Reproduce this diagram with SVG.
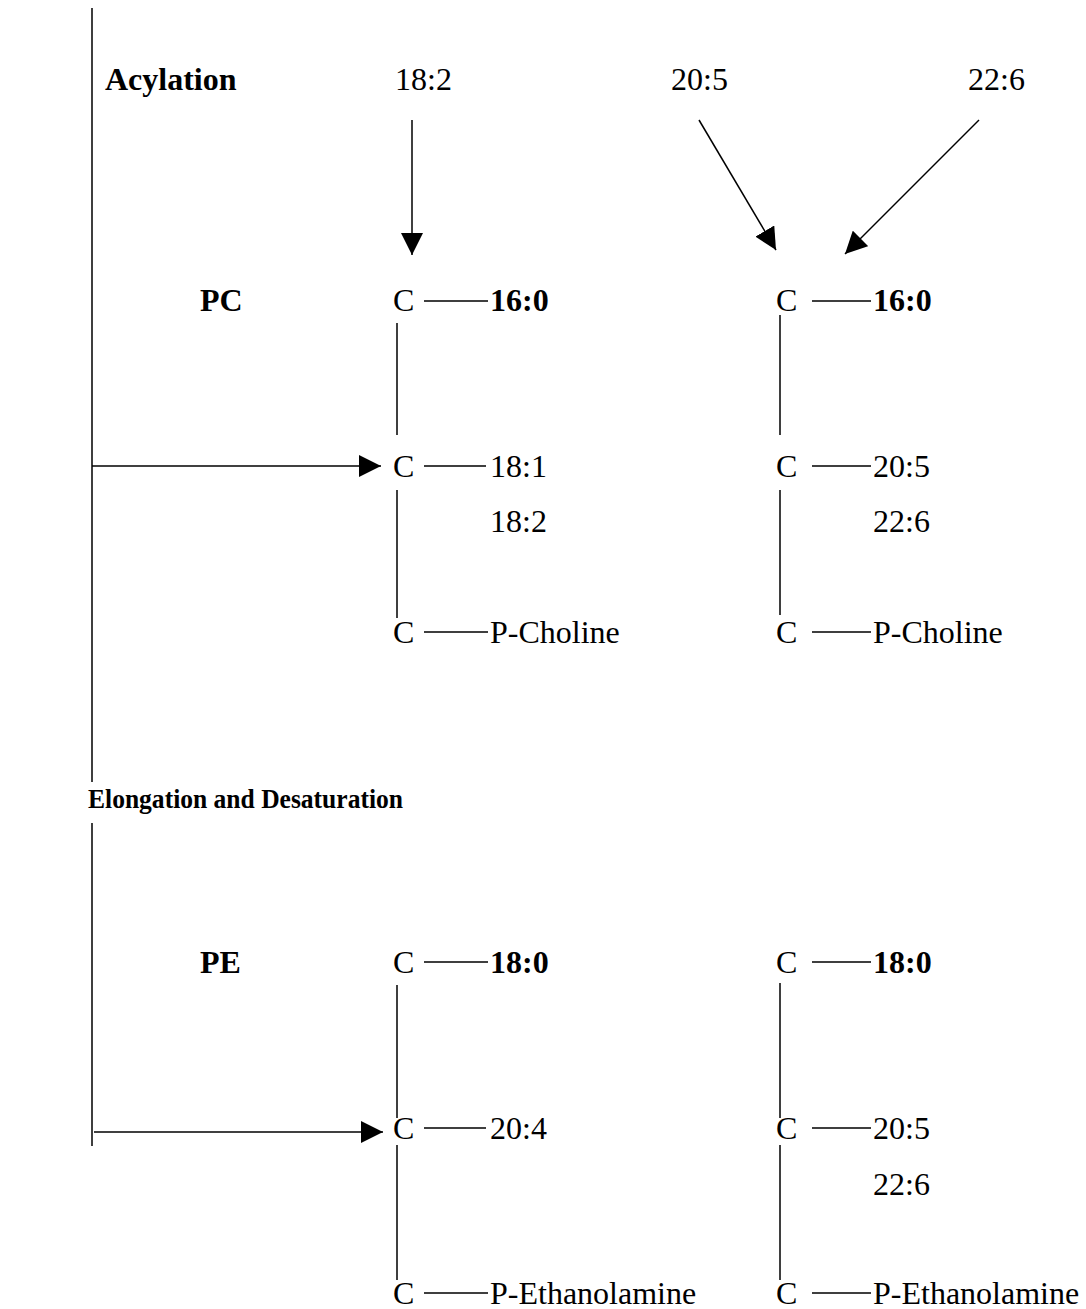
<svg xmlns="http://www.w3.org/2000/svg" width="1086" height="1309" viewBox="0 0 1086 1309">
<style>
text{font-family:"Liberation Serif","Times New Roman",serif;font-size:32px;fill:#000}
.b{font-weight:bold}
.ln{stroke:#000;stroke-width:1.5;fill:none}
</style>
<defs>
<marker id="ah" viewBox="0 0 10 10" refX="10" refY="5" markerWidth="22" markerHeight="22" markerUnits="userSpaceOnUse" orient="auto">
<path d="M0,0 L10,5 L0,10 z" fill="#000"/>
</marker>
</defs>
<rect width="1086" height="1309" fill="#fff"/>
<g id="labels">
<text class="b" x="105" y="90">Acylation</text>
<text class="b" x="88" y="808" style="font-size:28px" textLength="315" lengthAdjust="spacingAndGlyphs">Elongation and Desaturation</text>
<text class="b" x="200" y="311">PC</text>
<text class="b" x="200" y="973">PE</text>
</g>
<g id="precursors">
<text x="395" y="90">18:2</text>
<text x="671" y="90">20:5</text>
<text x="968" y="90">22:6</text>
</g>
<g id="pc-left">
<text x="393" y="311">C</text><text class="b" x="490" y="311">16:0</text>
<text x="393" y="477">C</text><text x="490" y="477">18:1</text>
<text x="490" y="532">18:2</text>
<text x="393" y="643">C</text><text x="490" y="643">P-Choline</text>
<path class="ln" d="M424,301H488M424,466H486M424,632H488M397,323V435M397,490V618"/>
</g>
<g id="pc-right">
<text x="776" y="311">C</text><text class="b" x="873" y="311">16:0</text>
<text x="776" y="477">C</text><text x="873" y="477">20:5</text>
<text x="873" y="532">22:6</text>
<text x="776" y="643">C</text><text x="873" y="643">P-Choline</text>
<path class="ln" d="M812,301H871M812,466H871M812,632H871M780,315V435M780,490V615"/>
</g>
<g id="pe-left">
<text x="393" y="973">C</text><text class="b" x="490" y="973">18:0</text>
<text x="393" y="1139">C</text><text x="490" y="1139">20:4</text>
<text x="393" y="1304">C</text><text x="490" y="1304">P-Ethanolamine</text>
<path class="ln" d="M424,962H488M424,1128H486M424,1293H488M397,985V1118M397,1145V1280"/>
</g>
<g id="pe-right">
<text x="776" y="973">C</text><text class="b" x="873" y="973">18:0</text>
<text x="776" y="1139">C</text><text x="873" y="1139">20:5</text>
<text x="873" y="1195">22:6</text>
<text x="776" y="1304">C</text><text x="873" y="1304">P-Ethanolamine</text>
<path class="ln" d="M812,962H871M812,1128H871M812,1293H871M780,983V1118M780,1145V1280"/>
</g>
<g id="connectors">
<path class="ln" d="M92,8V782M92,823V1146"/>
<path class="ln" d="M412,120V255" marker-end="url(#ah)"/>
<path class="ln" d="M699,120L776,250" marker-end="url(#ah)"/>
<path class="ln" d="M979,120L845,254" marker-end="url(#ah)"/>
<path class="ln" d="M92,466H381" marker-end="url(#ah)"/>
<path class="ln" d="M94,1132H383" marker-end="url(#ah)"/>
</g>
</svg>
